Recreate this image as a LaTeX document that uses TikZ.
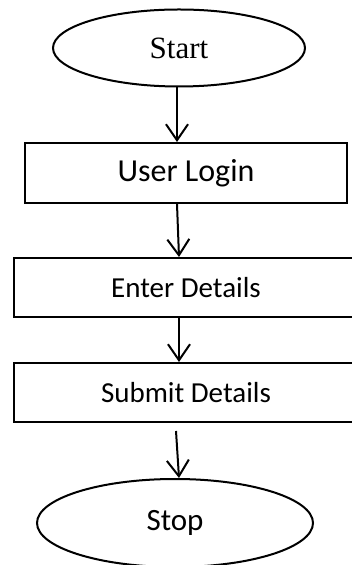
\documentclass[tikz,border=0pt]{standalone}
\usepackage{fontspec}
\setmainfont{Carlito}
\newfontfamily\timesf{Liberation Serif}
\usetikzlibrary{shapes.geometric,arrows.meta}
\begin{document}
\begin{tikzpicture}[x=1pt,y=1pt,
  boxst/.style={draw,line width=2pt,rectangle,inner sep=0pt,anchor=center},
  ellst/.style={draw,line width=2pt,ellipse,inner sep=0pt},
  arr/.style={line width=2pt,-{Straight Barb[length=16pt,width=22pt,line width=2pt]}}]
\clip (0,0) rectangle (352,565);
\fill[white] (0,0) rectangle (352,565);
\node[ellst,minimum width=252pt,minimum height=77pt] (start) at (179,517) {\fontsize{31}{36}\selectfont\timesf Start};
\node[boxst,minimum width=322pt,minimum height=60pt] (ul) at (186,392) {\fontsize{32}{38}\selectfont User Login};
\node[boxst,minimum width=344pt,minimum height=59pt] (ed) at (186,277.5) {\fontsize{29}{34}\selectfont Enter Details};
\node[boxst,minimum width=344pt,minimum height=59pt] (sd) at (186,172.5) {\fontsize{29}{34}\selectfont Submit Details};
\node[ellst,minimum width=276pt,minimum height=88pt] (stop) at (175,42) {\fontsize{31}{36}\selectfont Stop};
\draw[arr] ([xshift=-2pt]start.south) -- ([xshift=-9pt]ul.north);
\draw[arr] ([xshift=-9pt]ul.south) -- ([xshift=-7pt]ed.north);
\draw[arr] ([xshift=-7pt]ed.south) -- ([xshift=-7pt]sd.north);
\draw[arr] ([xshift=-10pt,yshift=-8pt]sd.south) -- ([xshift=4pt]stop.north);
\end{tikzpicture}
\end{document}
